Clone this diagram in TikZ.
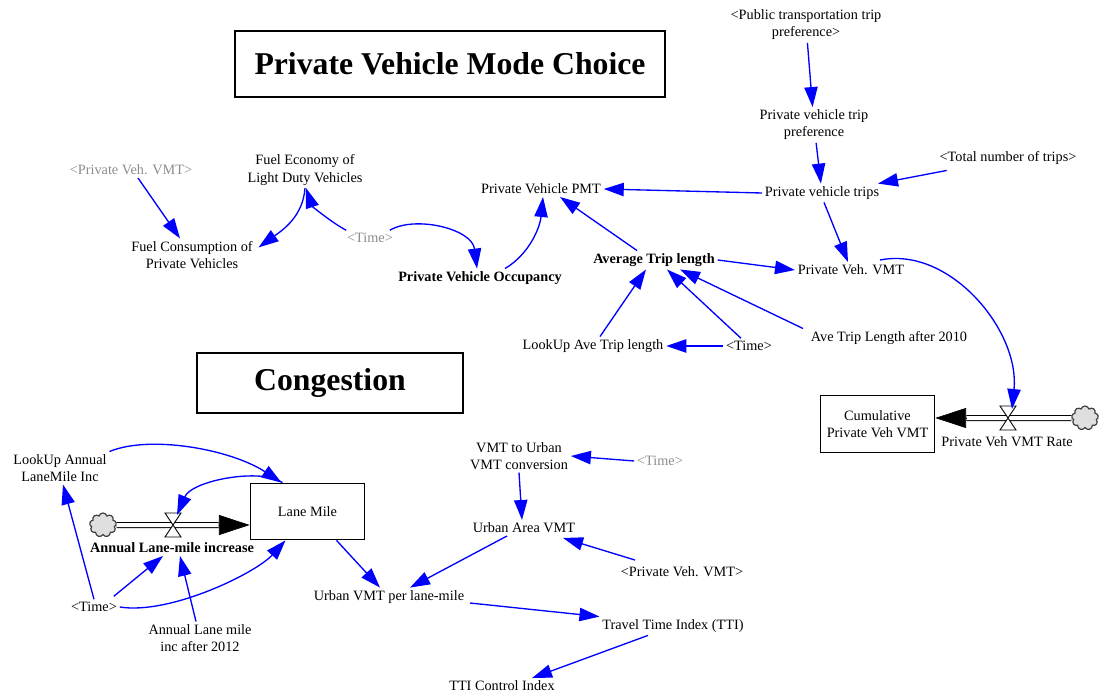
\documentclass[tikz,border=0pt]{standalone}
\usepackage{fontspec}
\setmainfont{Liberation Serif}
\usetikzlibrary{arrows.meta,calc,shapes.symbols}
\definecolor{gtext}{RGB}{140,140,140}
\begin{document}
\begin{tikzpicture}[x=0.75pt,y=-0.75pt,
  lbl/.style={align=center, inner sep=2pt, font=\fontsize{10.7}{12.8}\selectfont},
  glbl/.style={lbl, text=gtext},
  blbl/.style={align=center, inner sep=2pt, font=\fontsize{10.7}{12.8}\selectfont\bfseries},
  arr/.style={draw=blue, line width=1pt, -{Triangle[length=15pt,width=10pt]}},
  stock/.style={draw, line width=0.8pt, minimum width=86pt, minimum height=42.5pt, align=center, inner sep=2pt, font=\fontsize{10.7}{12.8}\selectfont},
  pipe/.style={draw, line width=0.75pt, double=white, double distance=3pt},
  flowtip/.style={-{Triangle[length=23pt,width=15pt]}, draw=black, line width=0.5pt},
  ttl/.style={draw, line width=0.9pt, inner sep=0pt, font=\fontsize{23.8}{28}\selectfont\bfseries},
  valve/.style={draw=black, fill=white, line width=0.7pt},
  cloudy/.style={cloud, cloud puffs=9, cloud ignores aspect, draw=black!75, fill=gray!25, minimum width=20pt, minimum height=18pt, inner sep=0pt, line width=0.9pt}
]
\useasboundingbox (0,0) rectangle (1099,695);

% titles
\node[ttl, minimum width=322.5pt, minimum height=49.5pt] (t1) at (450,64) {Private Vehicle Mode Choice};
\node[ttl, minimum width=199.5pt, minimum height=45pt] (t2) at (330,383) {Congestion};

% mode choice nodes
\node[lbl] (pub) at (806,25) {<Public transportation trip\\preference>};
\node[lbl] (pref) at (814,125) {Private vehicle trip\\preference};
\node[lbl] (total) at (1008,158) {<Total number of trips>};
\node[lbl] (trips) at (822,193) {Private vehicle trips};
\node[lbl] (pmt) at (541,189) {Private Vehicle PMT};
\node[lbl] (fe) at (305,170) {Fuel Economy of\\Light Duty Vehicles};
\node[glbl] (gpvmt) at (131,170) {<Private Veh. VMT>};
\node[lbl] (fc) at (192,255) {Fuel Consumption of\\Private Vehicles};
\node[glbl] (time1) at (370,238) {<Time>};
\node[blbl] (occ) at (480,278) {Private Vehicle Occupancy};
\node[blbl] (avg) at (654,260) {Average Trip length};
\node[lbl] (pvmt) at (851,270) {Private Veh. VMT};
\node[lbl] (luave) at (593,346) {LookUp Ave Trip length};
\node[lbl] (time2) at (749,346) {<Time>};
\node[lbl] (after10) at (889,338) {Ave Trip Length after 2010};
\node[stock] (cum) at (877.5,424) {Cumulative\\Private Veh VMT};
\coordinate (v2) at (1008,418);
\node[lbl] (v2lbl) at (1007,442) {Private Veh VMT Rate};
\node[cloudy] (cl2) at (1085,418) {};

% congestion nodes
\node[stock] (lane) at (307.5,511.5) {Lane Mile};
\node[cloudy] (cl1) at (103,525) {};
\coordinate (v1) at (173,525);
\node[blbl] (annual) at (172,548) {Annual Lane-mile increase};
\node[lbl] (luann) at (60,468) {LookUp Annual\\LaneMile Inc};
\node[lbl] (time3) at (94,607) {<Time>};
\node[lbl] (after12) at (200,638) {Annual Lane mile\\inc after 2012};
\node[lbl] (v2u) at (519,456) {VMT to Urban\\VMT conversion};
\node[glbl] (time4) at (660,461) {<Time>};
\node[lbl] (uarea) at (524,528) {Urban Area VMT};
\node[lbl] (pvmt2) at (682,572) {<Private Veh. VMT>};
\node[lbl] (uplm) at (389,597) {Urban VMT per lane-mile};
\node[lbl] (tti) at (673,626) {Travel Time Index (TTI)};
\node[lbl] (ttic) at (502,686) {TTI Control Index};

% flows
\draw[pipe] (cl2.west) -- ($(cum.east)+(31,-6)$);
\draw[flowtip] ($(cum.east)+(31,-6)$) -- ($(cum.east)+(0,-6)$);
\draw[valve] ($(v2)+(-8,-12)$) -- ($(v2)+(8,-12)$) -- (v2) -- ($(v2)+(8,12)$) -- ($(v2)+(-8,12)$) -- (v2) -- cycle;
\draw[pipe] (cl1.east) -- ($(lane.west)+(-31,13.5)$);
\draw[flowtip] ($(lane.west)+(-31,13.5)$) -- ($(lane.west)+(0,13.5)$);
\draw[valve] ($(v1)+(-8,-12)$) -- ($(v1)+(8,-12)$) -- (v1) -- ($(v1)+(8,12)$) -- ($(v1)+(-8,12)$) -- (v1) -- cycle;

% mode choice arrows
\draw[arr] (pub) -- (pref);
\draw[arr] (pref) -- (trips);
\draw[arr] ($(total.south west)+(10,3)$) -- ($(trips.north east)+(-4,0)$);
\draw[arr] (trips.west) -- (pmt.east);
\draw[arr] ($(trips.south)+(2,0)$) -- ($(pvmt.north)+(-3,0)$);
\draw[arr] (avg.east) -- (pvmt.west);
\draw[arr] ($(avg.north)+(-17,0)$) -- ($(pmt.south)+(19,0)$);
\draw[arr] ($(occ.north)+(25,0)$) .. controls +(25,-15) and +(-3,30) .. ($(pmt.south)+(2,0)$);
\draw[arr] ($(time1.north east)+(-6,0)$) .. controls +(25,-15) and +(-5,-40) .. ($(occ.north)+(-3,0)$);
\draw[arr] ($(time1.north west)+(2,0)$) .. controls +(-15,-8) and +(6,18) .. ($(fe.south)+(1,0)$);
\draw[arr] (fe.south) .. controls +(-2,28) and +(25,-18) .. ($(fc.north east)+(3,9)$);
\draw[arr] ($(gpvmt.south)+(7,0)$) -- ($(fc.north)+(-12,0)$);
\draw[arr] ($(luave.north)+(7,0)$) -- ($(avg.south)+(-8,0)$);
\draw[arr] (time2.west) -- (luave.east);
\draw[arr] ($(time2.north)+(-8,0)$) -- ($(avg.south)+(13,0)$);
\draw[arr] ($(after10.north west)+(-5,0)$) -- ($(avg.south)+(26,0)$);
\draw[arr] ($(pvmt.north east)+(-27,-2)$) .. controls +(70,-14) and +(8,-78) .. ($(v2)+(4,-9)$);

% congestion arrows
\draw[arr] (luann.north east) .. controls +(41,-17) and +(-50,-33) .. ($(lane.north)+(-26,0)$);
\draw[arr] ($(lane.north)+(-25,0)$) .. controls +(-20,-15) and +(15,-35) .. ($(v1)+(4,-10)$);
\draw[arr] (time3.north) -- ($(luann.south)+(3,0)$);
\draw[arr] ($(time3.north east)+(-6,-3)$) -- ($(annual.south)+(-9,0)$);
\draw[arr] (time3.east) .. controls +(50,8) and +(-30,33) .. ($(lane.south)+(-22,0)$);
\draw[arr] ($(after12.north)+(-4,0)$) -- ($(annual.south)+(8,0)$);
\draw[arr] ($(lane.south)+(29,0)$) -- ($(uplm.north)+(-9,0)$);
\draw[arr] ($(uarea.south)+(-17,0)$) -- ($(uplm.north)+(21,0)$);
\draw[arr] (v2u.south) -- ($(uarea.north)+(-2,0)$);
\draw[arr] (time4.west) -- (v2u.east);
\draw[arr] ($(pvmt2.north west)+(17,-4)$) -- ($(uarea.south east)+(-15,2)$);
\draw[arr] ($(uplm.east)+(3,6)$) -- (tti.north west);
\draw[arr] ($(tti.south)+(-25,0)$) -- ($(ttic.north)+(30,0)$);
\end{tikzpicture}
\end{document}
